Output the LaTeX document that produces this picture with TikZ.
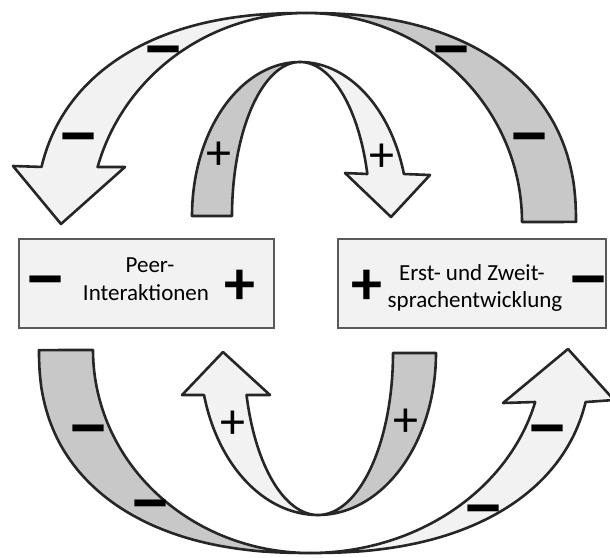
\documentclass[tikz,border=0pt]{standalone}
\usepackage{fontspec}
\setmainfont{Carlito}
\usepackage{graphicx}
\definecolor{lightf}{HTML}{F2F2F2}
\definecolor{grayf}{HTML}{C8C8C8}
\definecolor{outl}{HTML}{262626}
\definecolor{boxl}{HTML}{5A5A5A}
\tikzset{
  band/.style={draw=outl, line width=2.6pt, line join=round},
  lightband/.style={band, fill=lightf},
  grayband/.style={band, fill=grayf},
  boxnode/.style={draw=boxl, line width=1.3pt, fill=lightf, inner sep=0pt},
  lbl/.style={inner sep=0pt, font=\fontsize{23}{27}\selectfont, text=black},
  bar/.style={inner sep=0pt, anchor=base, font=\fontsize{52}{52}\selectfont\bfseries, text=black},
  bigplus/.style={inner sep=0pt, font=\fontsize{62}{62}\selectfont\bfseries, text=black},
  thinplus/.style={inner sep=0pt, font=\fontsize{50}{50}\selectfont, text=black},
}
\newcommand{\barglyph}{\makebox[28pt]{\scalebox{1.7}[1.5]{–}}}
\begin{document}
\begin{tikzpicture}[x=1pt,y=-1pt]
\useasboundingbox (0,0) rectangle (610,557);
\clip (0,0) rectangle (610,557);
% ---------- top outer arrow ----------
\path[lightband] (306,13)
  -- plot[domain=90:12.46, samples=70] ({306-270*max(cos(\x),0.0001)^0.87}, {222-209*max(sin(\x),0.0001)^0.87})
  -- (13,166) -- (61,224) -- (125,167) -- (97.6,167)
  -- plot[domain=15.25:90, samples=70] ({306-216*cos(\x)}, {222-209*sin(\x)}) -- cycle;
\path[grayband] (306,13)
  -- plot[domain=90:0, samples=70] ({306+270*max(cos(\x),0.0001)^0.87}, {222-209*max(sin(\x),0.0001)^0.87})
  -- (522,222)
  -- plot[domain=0:90, samples=70] ({306+216*cos(\x)}, {222-209*sin(\x)}) -- cycle;
% ---------- top inner arrow ----------
\path[grayband] (300,62)
  -- plot[domain=90:0, samples=50] ({300-108*cos(\x)}, {216-154*sin(\x)})
  -- (232,216)
  -- plot[domain=0:90, samples=50] ({300-68*cos(\x)}, {216-154*sin(\x)}) -- cycle;
\path[lightband] (300,62)
  -- plot[domain=90:15.83, samples=50] ({300+108*cos(\x)}, {216-154*sin(\x)})
  -- (430,175) -- (391,217) -- (345,173) -- (367.3,174)
  -- plot[domain=15.83:90, samples=50] ({300+70*cos(\x)}, {216-154*sin(\x)}) -- cycle;
% ---------- bottom inner arrow ----------
\path[lightband] (318,515)
  -- plot[domain=90:15.03, samples=50] ({318-118*cos(\x)}, {353+162*sin(\x)})
  -- (182,395) -- (223,352) -- (270,395) -- (246.5,395)
  -- plot[domain=15.03:90, samples=50] ({318-74*cos(\x)}, {353+162*sin(\x)}) -- cycle;
\path[grayband] (318,515)
  -- plot[domain=90:0, samples=50] ({318+118*cos(\x)}, {353+162*sin(\x)})
  -- (393,353)
  -- plot[domain=0:90, samples=50] ({318+75*cos(\x)}, {353+162*sin(\x)}) -- cycle;
% ---------- bottom outer arrow ----------
\path[grayband] (310,553)
  -- plot[domain=90:0, samples=70] ({310-271*max(cos(\x),0.0001)^0.87}, {350+203*max(sin(\x),0.0001)^0.87})
  -- (93,350)
  -- plot[domain=0:90, samples=70] ({310-217*cos(\x)}, {350+203*sin(\x)}) -- cycle;
\path[lightband] (310,553)
  -- plot[domain=90:12.06, samples=70] ({310+281*max(cos(\x),0.0001)^0.87}, {350+203*max(sin(\x),0.0001)^0.87})
  -- (614,400) -- (568,349) -- (503,403) -- (535.2,402)
  -- plot[domain=14.83:90, samples=70] ({310+233*cos(\x)}, {350+203*sin(\x)}) -- cycle;
% ---------- boxes ----------
\node[boxnode, minimum width=255pt, minimum height=89pt] (peerbox) at (146.5,283.5) {};
\node[boxnode, minimum width=268pt, minimum height=89pt] (spbox) at (472,283.5) {};
\node[lbl, anchor=base] (peerA) at (150,272) {Peer-};
\node[lbl, anchor=base] (peerB) at (146,300) {Interaktionen};
\node[lbl, anchor=base] (spA) at (472,280) {Erst- und Zweit-};
\node[lbl, anchor=base] (spB) at (475,307) {sprachentwicklung};
\node[bar] (pm) at (46,301) {\barglyph};
\node[bigplus] (pp) at (240,287) {+};
\node[bigplus] (sp) at (367,287) {+};
\node[bar] (sm) at (589,301) {\barglyph};
% ---------- arrow labels ----------
\node[bar] (m1) at (164,71) {\barglyph};
\node[bar] (m2) at (79,158) {\barglyph};
\node[bar] (m3) at (452,71) {\barglyph};
\node[bar] (m4) at (530,158) {\barglyph};
\node[bar] (m5) at (89,450) {\barglyph};
\node[bar] (m6) at (151,525) {\barglyph};
\node[bar] (m7) at (548,450) {\barglyph};
\node[bar] (m8) at (484,530) {\barglyph};
\node[thinplus] (p1) at (219,156) {+};
\node[thinplus] (p2) at (382,158) {+};
\node[thinplus] (p3) at (233,425) {+};
\node[thinplus] (p4) at (406,423) {+};
\end{tikzpicture}
\end{document}
